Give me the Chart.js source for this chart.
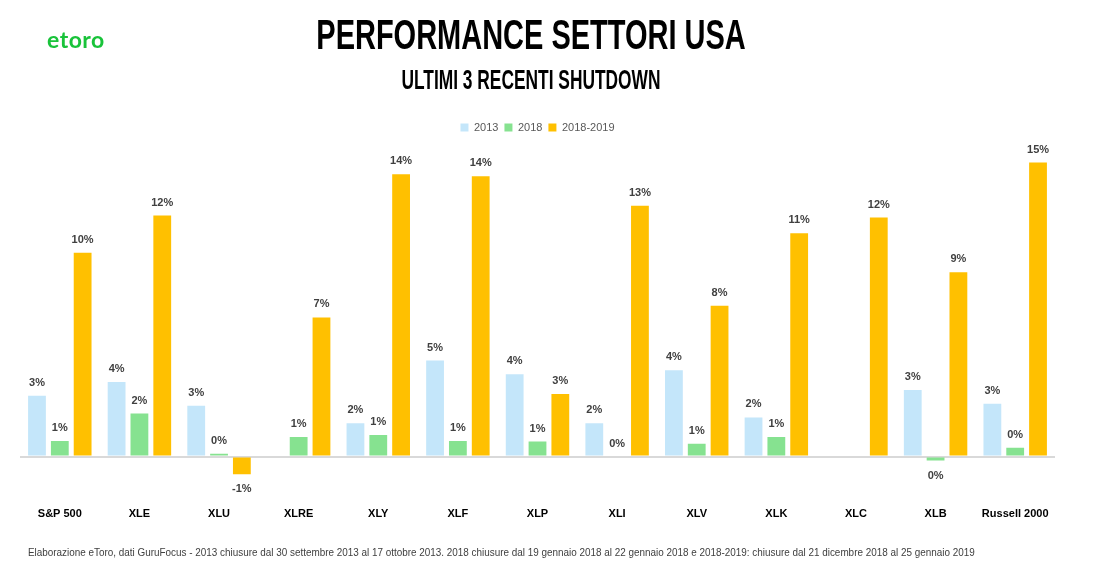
<!DOCTYPE html>
<html>
<head>
<meta charset="utf-8">
<script src="https://cdn.jsdelivr.net/npm/chart.js@4.4.1/dist/chart.umd.min.js"></script>
<style>
  html, body { margin: 0; padding: 0; background: #fff; }
  #wrap { position: relative; width: 1099px; height: 567px; }
  .head { position: absolute; left: 0; width: 1062px; text-align: center; color: #000; font-family: "Liberation Sans", Arial, sans-serif; font-weight: bold; white-space: nowrap; }
  #title { top: 14px; font-size: 42px; line-height: 42px; transform: scaleX(0.69); }
  #subtitle { top: 66px; font-size: 28px; line-height: 28px; transform: scaleX(0.62); }
  #logo { position: absolute; left: 47px; top: 25px; color: #19c33a; font: bold 23px "Lato", sans-serif; letter-spacing: 0.5px; }
  #note { position: absolute; left: 28px; top: 546px; color: #404040; font: 11px "Liberation Sans", Arial, sans-serif; white-space: nowrap; transform: scaleX(0.9); transform-origin: 0 50%; }
</style>
</head>
<body>
<div id="wrap">
  <canvas id="chart" width="1099" height="567"></canvas>
  <div id="logo">etoro</div>
  <div id="title" class="head">PERFORMANCE SETTORI USA</div>
  <div id="subtitle" class="head">ULTIMI 3 RECENTI SHUTDOWN</div>
  <div id="note">Elaborazione eToro, dati GuruFocus - 2013 chiusure dal 30 settembre 2013 al 17 ottobre 2013. 2018 chiusure dal 19 gennaio 2018 al 22 gennaio 2018 e 2018-2019: chiusure dal 21 dicembre 2018 al 25 gennaio 2019</div>
</div>
<script>
// Categories and series (percent)
const sectors = ['S&P 500', 'XLE', 'XLU', 'XLRE', 'XLY', 'XLF', 'XLP', 'XLI', 'XLV', 'XLK', 'XLC', 'XLB', 'Russell 2000']
const perf2013 = [3.1, 3.8, 2.6, null, 1.7, 4.9, 4.2, 1.7, 4.4, 2.0, null, 3.4, 2.7]
const perf2018 = [0.8, 2.2, 0.15, 1.0, 1.1, 0.8, 0.77, 0, 0.66, 1.0, null, -0.2, 0.45]
const perf2018_19 = [10.4, 12.3, -0.9, 7.1, 14.4, 14.3, 3.2, 12.8, 7.7, 11.4, 12.2, 9.4, 15.0]

// Draw the rounded value above / below each bar
const valueLabels = {
  id: 'valueLabels',
  afterDatasetsDraw(chart) {
    const ctx = chart.ctx
    ctx.save()
    ctx.font = 'bold 11px "Liberation Sans", Arial, sans-serif'
    ctx.fillStyle = '#404040'
    ctx.textAlign = 'center'
    ctx.textBaseline = 'middle'
    chart.data.datasets.forEach((ds, di) => {
      const meta = chart.getDatasetMeta(di)
      meta.data.forEach((bar, i) => {
        const v = ds.data[i]
        if (v === null || v === undefined) return
        const txt = Math.round(v).toString().replace('-0', '0') + '%'
        const y = v >= 0 ? bar.y - 13 : bar.y + 15
        ctx.fillText(txt, bar.x, y)
      })
    })
    ctx.restore()
  }
}

new Chart(document.getElementById('chart'), {
  type: 'bar',
  data: {
    labels: sectors,
    datasets: [
      { label: '2013', data: perf2013, backgroundColor: '#c4e6fa' },
      { label: '2018', data: perf2018, backgroundColor: '#86e290' },
      { label: '2018-2019', data: perf2018_19, backgroundColor: '#ffc000' }
    ]
  },
  options: {
    responsive: false,
    animation: false,
    layout: { padding: { left: 20, right: 44, top: 116, bottom: 42 } },
    datasets: { bar: { categoryPercentage: 0.86, barPercentage: 0.78 } },
    plugins: {
      legend: {
        position: 'top',
        labels: {
          boxWidth: 8,
          boxHeight: 8,
          padding: 6,
          color: '#595959',
          font: { family: '"Liberation Sans", Arial, sans-serif', size: 11 }
        }
      },
      tooltip: { enabled: false }
    },
    scales: {
      x: {
        grid: { display: false },
        border: { display: false },
        ticks: {
          color: '#000',
          padding: 4,
          font: { family: '"Liberation Sans", Arial, sans-serif', size: 11, weight: 'bold' }
        }
      },
      y: {
        min: -2,
        max: 16,
        display: true,
        border: { display: false },
        ticks: { display: false, stepSize: 1 },
        grid: {
          drawTicks: false,
          color: (c) => (c.tick && c.tick.value === 0 ? '#d9d9d9' : 'rgba(0,0,0,0)'),
          lineWidth: 2
        }
      }
    }
  },
  plugins: [valueLabels]
})
</script>
</body>
</html>
